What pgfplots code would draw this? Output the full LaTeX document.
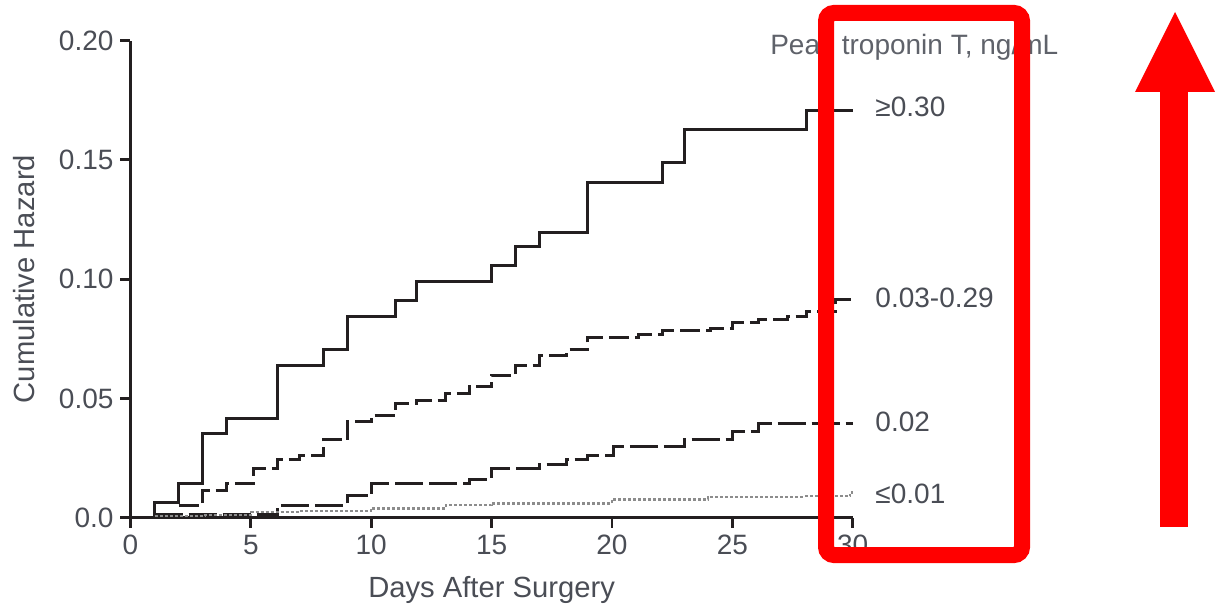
\documentclass[border=0pt]{standalone}
\usepackage{pgfplots}
\pgfplotsset{compat=1.18}
\usepackage{fontspec}
\setmainfont{Liberation Sans}
\definecolor{txt}{HTML}{4A4D55}
\definecolor{txtl}{HTML}{5F626A}
\definecolor{ln}{HTML}{231F20}
\definecolor{redann}{HTML}{FF0000}
\begin{document}
\begin{tikzpicture}
\path[use as bounding box] (-65.25pt,-44.15pt) rectangle (544.75pt,258.85pt);
\begin{axis}[
  at={(0pt,0pt)}, anchor=south west,
  scale only axis, width=361.1pt, height=238.6pt,
  xmin=0, xmax=30, ymin=0, ymax=0.2,
  axis lines=left, axis line style={-, line width=1.4pt, ln},
  xtick={0,5,...,30}, ytick={0,0.05,0.1,0.15,0.2},
  yticklabels={0.0,0.05,0.10,0.15,0.20},
  tick align=outside, major tick length=5pt,
  every tick/.style={line width=1.4pt, ln},
  tick label style={font=\fontsize{14}{16}\selectfont, text=txt},
  /pgf/number format/assume math mode=true,
  xlabel={Days After Surgery}, ylabel={Cumulative Hazard},
  label style={font=\fontsize{14.6}{17}\selectfont, text=txt},
  xlabel style={yshift=-4pt},
  ylabel style={yshift=5pt},
  clip=false,
]
\addplot[const plot, no marks, line width=1.5pt, ln] coordinates {
(1,0) (1,0.0065) (2,0.0144) (3,0.0351) (4,0.0417) (6.1,0.064) (8,0.0703) (9,0.0845) (11,0.0912) (11.9,0.0992) (15,0.1055) (16,0.1136) (17,0.1196) (19,0.1406) (22.1,0.1488) (23,0.1628) (28.1,0.1706) (30,0.1706)
};
\addplot[const plot, no marks, line width=1.5pt, ln, dash pattern=on 10pt off 3pt] coordinates {
(2,0.0053) (3,0.0116) (4,0.0144) (5.1,0.0207) (6.1,0.0246) (7,0.026) (8,0.0326) (9,0.0402) (10,0.043) (11,0.048) (11.9,0.0493) (13.1,0.0521) (14.1,0.0549) (15,0.0598) (16,0.064) (17,0.0679) (18.1,0.0703) (19,0.0756) (21.1,0.0769) (22.1,0.0784) (24.1,0.0794) (25,0.0819) (26.1,0.0831) (27.3,0.0845) (28.1,0.0863) (29.3,0.0915) (30,0.0915)
};
\addplot[const plot, no marks, line width=1.5pt, ln, dash pattern=on 14pt off 3pt] coordinates {
(1,0.0012) (6.1,0.0053) (9,0.0091) (10,0.0144) (14.1,0.0161) (15,0.0207) (17,0.0221) (18.1,0.0246) (19,0.026) (20.05,0.030) (23,0.0326) (25,0.0363) (26.1,0.0393) (30,0.0393)
};
\addplot[const plot, no marks, line width=1.2pt, black!45, dash pattern=on 1.5pt off 1pt] coordinates {
(1,0.0008) (3.1,0.0012) (5,0.0025) (7,0.0028) (10,0.0039) (13.1,0.0053) (15,0.006) (20,0.0077) (24,0.0088) (28,0.0091) (29.9,0.0105) (30,0.0105)
};
\node[anchor=west, text=txtl, font=\fontsize{14}{16}\selectfont, inner sep=0pt] at (axis cs:26.56,0.1973) {Peak troponin T, ng/mL};
\node[anchor=west, text=txt, font=\fontsize{14}{16}\selectfont, inner sep=0pt] at (axis cs:30.93,0.1721) {≥0.30};
\node[anchor=west, text=txt, font=\fontsize{14}{16}\selectfont, inner sep=0pt] at (axis cs:30.93,0.0921) {0.03-0.29};
\node[anchor=west, text=txt, font=\fontsize{14}{16}\selectfont, inner sep=0pt] at (axis cs:30.93,0.0401) {0.02};
\node[anchor=west, text=txt, font=\fontsize{14}{16}\selectfont, inner sep=0pt] at (axis cs:30.93,0.0099) {≤0.01};
\end{axis}
\draw[redann, line width=8pt, rounded corners=4pt] (347.75pt,-18.65pt) rectangle (445.75pt,252.35pt);
\fill[redann] (514.75pt,-4.65pt) rectangle (528.75pt,212.95pt);
\fill[redann] (502.25pt,212.85pt) -- (542.25pt,212.85pt) -- (522.25pt,252.85pt) -- cycle;
\end{tikzpicture}
\end{document}
